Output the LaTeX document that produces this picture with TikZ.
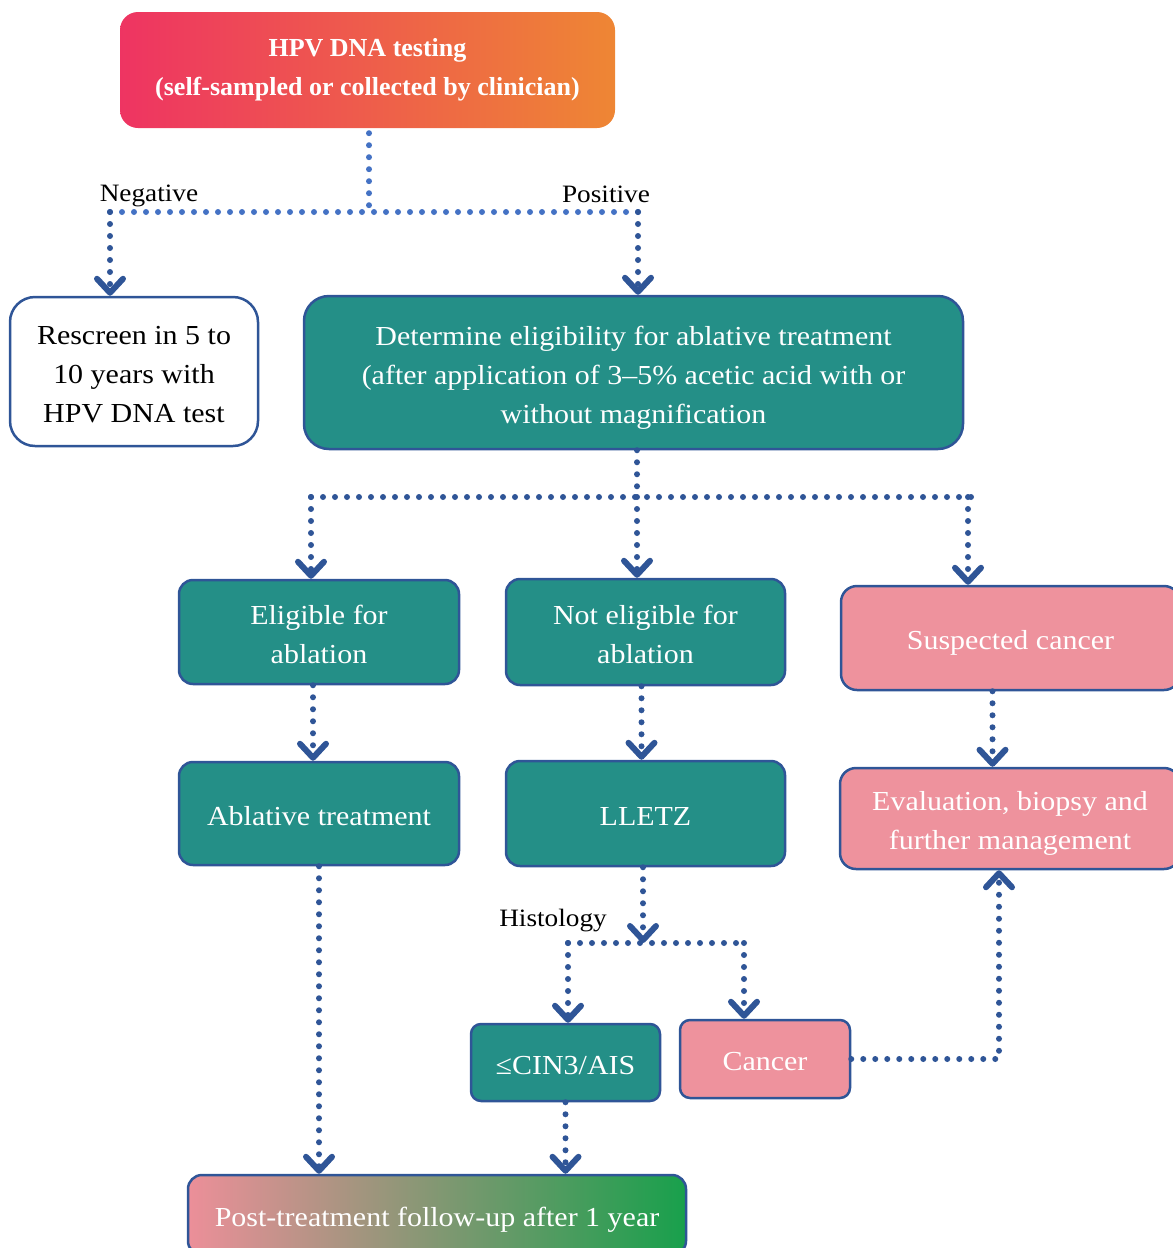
\documentclass[tikz,border=0pt]{standalone}
\usepackage{fontspec}
\setmainfont{Liberation Serif}[FakeStretch=1.09]
\newfontfamily\topfont{Liberation Serif}
\usetikzlibrary{arrows.meta}
\definecolor{tealc}{RGB}{36,143,135}
\definecolor{pinkc}{RGB}{238,146,157}
\definecolor{bordc}{RGB}{47,85,151}
\definecolor{darkb}{RGB}{47,85,151}
\definecolor{lightb}{RGB}{68,114,196}
\definecolor{topL}{RGB}{238,52,98}
\definecolor{topR}{RGB}{238,134,52}
\definecolor{postL}{RGB}{236,143,153}
\definecolor{postM}{RGB}{180,160,135}
\definecolor{postR}{RGB}{24,160,76}
\newcommand\boxtxt{\fontsize{27.5}{39}\selectfont}
\newcommand\lbltxt{\fontsize{25}{30}\selectfont}
\newcommand\toptxt{\topfont\bfseries\fontsize{26}{39}\selectfont}
\newcommand\rb[1]{\raisebox{0pt}[\dimexpr\height+8pt\relax][\depth]{\begin{tabular}{@{}c@{}}#1\end{tabular}}}
\tikzset{
  box/.style={rectangle, rounded corners=20pt, draw=bordc, line width=2.5pt, inner sep=0pt, font=\boxtxt},
  tealbox/.style={box, fill=tealc, text=white},
  pinkbox/.style={box, fill=pinkc, text=white},
  lbl/.style={font=\lbltxt, text=black, inner sep=0pt},
  dline/.style={draw=darkb, line width=6pt, line cap=round, dash pattern=on 0pt off 12pt},
  lline/.style={dline, draw=lightb},
  arr/.style={dline, -{Straight Barb[length=14pt,width=26pt,line width=6pt,round]}}
}
\begin{document}
\begin{tikzpicture}[x=1pt,y=-1pt]
\useasboundingbox (0,0) rectangle (1173,1248);

% nodes
\node[rectangle, rounded corners=18pt, left color=topL, right color=topR, text=white,
      font=\toptxt, align=center, minimum width=495pt, minimum height=116pt, inner sep=0pt]
      (top) at (367.5,70) {HPV DNA testing\\(self-sampled or collected by clinician)};
\node[box, fill=white, text=black, rounded corners=25pt, minimum width=248pt, minimum height=149pt]
      (rescreen) at (134,371.5) {\rb{Rescreen in 5 to\\10 years with\\HPV DNA test}};
\node[tealbox, rounded corners=25pt, minimum width=659pt, minimum height=153pt]
      (determine) at (633.5,372.5) {\rb{Determine eligibility for ablative treatment\\(after application of 3–5\% acetic acid with or\\without magnification}};
\node[tealbox, rounded corners=14pt, minimum width=280pt, minimum height=104pt]
      (eligible) at (319,632) {\rb{Eligible for\\ablation}};
\node[tealbox, rounded corners=14pt, minimum width=279pt, minimum height=106pt]
      (noteligible) at (645.5,632) {\rb{Not eligible for\\ablation}};
\node[pinkbox, rounded corners=16pt, minimum width=339pt, minimum height=104pt]
      (suspected) at (1010.5,638) {\rb{Suspected cancer}};
\node[tealbox, rounded corners=14pt, minimum width=280pt, minimum height=103pt]
      (ablative) at (319,813.5) {\rb{Ablative treatment}};
\node[tealbox, rounded corners=14pt, minimum width=279pt, minimum height=105pt]
      (lletz) at (645.5,813.5) {\rb{LLETZ}};
\node[pinkbox, rounded corners=16pt, minimum width=340pt, minimum height=101pt]
      (evaluation) at (1010,818.5) {\rb{Evaluation, biopsy and\\further management}};
\node[tealbox, rounded corners=10pt, minimum width=189pt, minimum height=77pt]
      (cin) at (565.5,1062.5) {\rb{≤CIN3/AIS}};
\node[pinkbox, rounded corners=10pt, minimum width=170pt, minimum height=78pt]
      (cancer) at (765,1059) {\rb{Cancer}};
\node[box, rounded corners=14pt, left color=postL, middle color=postM, right color=postR, text=white,
      minimum width=498pt, minimum height=80pt]
      (post) at (437,1215) {\rb{Post-treatment follow-up after 1 year}};

% labels
\node[lbl] (neg) at (149,196) {Negative};
\node[lbl] (pos) at (606,194) {Positive};
\node[lbl] (hist) at (553,921) {Histology};

% junction coordinates
\coordinate (j0) at (369,212);
\coordinate (jn) at (110,212);
\coordinate (jp) at (638,212);
\coordinate (k0) at (637,497);
\coordinate (kl) at (311,497);
\coordinate (kr) at (979,497);
\coordinate (kr2) at (968,497);
\coordinate (h0) at (643,943);
\coordinate (hl) at (568,943);
\coordinate (hr) at (744,943);
\coordinate (c1) at (999,1059);

% connectors
\draw[lline] ([yshift=-5pt]top.south -| j0) -- (j0);
\draw[lline] (jn) -- (jp);
\draw[arr] (jn) -- (jn |- rescreen.north);
\draw[arr] (jp) -- (jp |- determine.north);

\draw[dline] (determine.south -| k0) -- (k0);
\draw[dline] (kl) -- (kr);
\draw[arr] (kl) -- (kl |- eligible.north);
\draw[arr] (k0) -- (k0 |- noteligible.north);
\draw[arr] (kr2) -- (kr2 |- suspected.north);

\draw[arr] ([xshift=-6pt]eligible.south) -- ([xshift=-6pt]eligible.south |- ablative.north);
\draw[arr] ([xshift=-4pt]noteligible.south) -- ([xshift=-4pt]noteligible.south |- lletz.north);
\draw[arr] ([xshift=-18pt]suspected.south) -- ([xshift=-18pt]suspected.south |- evaluation.north);

\draw[arr] (ablative.south) -- (ablative.south |- post.north);
\draw[arr] (lletz.south -| h0) -- (h0);
\draw[dline] (hl) -- (hr);
\draw[arr] (hl) -- (hl |- cin.north);
\draw[arr] (hr) -- (hr |- cancer.north);
\draw[arr] (cin.south) -- (cin.south |- post.north);
\draw[arr] (cancer.east) -- (c1) -- (c1 |- evaluation.south);
\end{tikzpicture}
\end{document}
